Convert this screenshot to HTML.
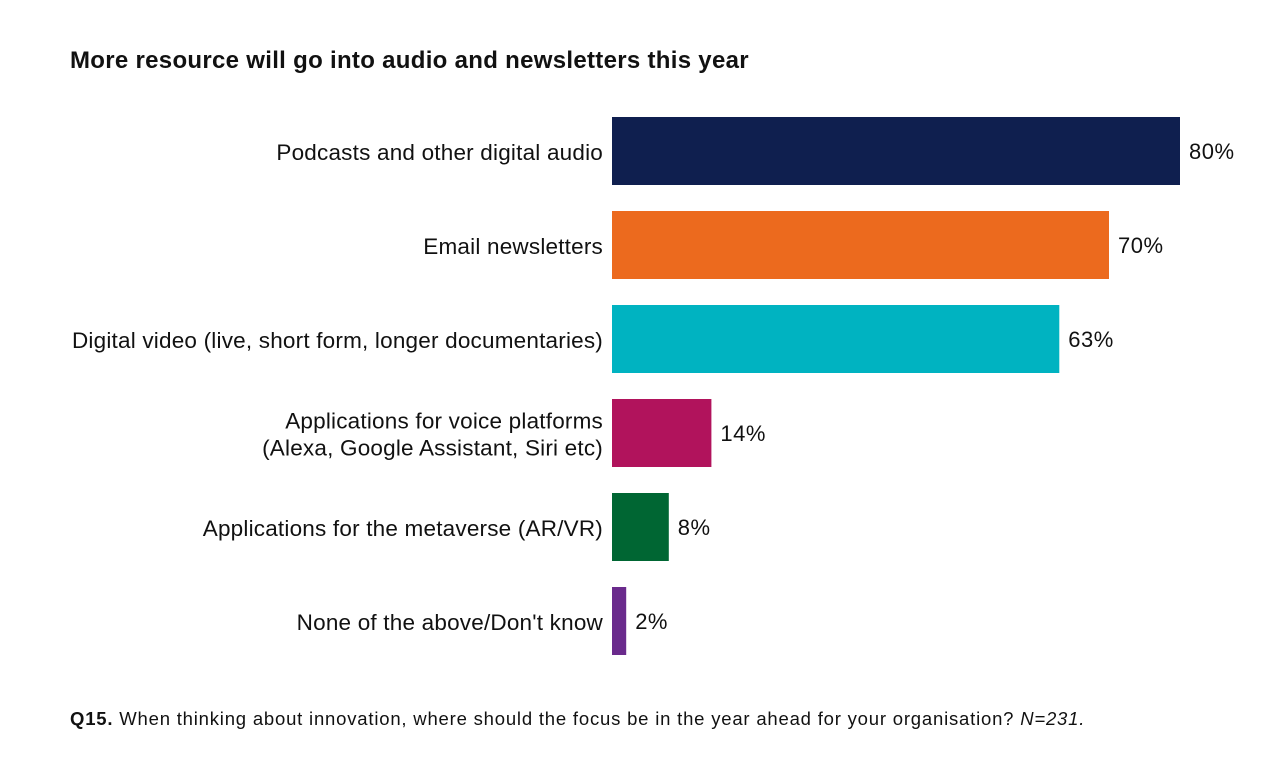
<!DOCTYPE html>
<html><head><meta charset="utf-8"><style>
body{margin:0;width:1280px;height:780px;background:#fff;font-family:"Liberation Sans",sans-serif;overflow:hidden;position:relative}
#title{position:absolute;left:70px;top:47px;font-size:24px;font-weight:bold;color:#111;letter-spacing:0.3px;white-space:nowrap}
#foot{position:absolute;left:70px;top:708px;font-size:18.5px;color:#111;letter-spacing:0.8px;white-space:nowrap}
</style></head><body>
<div id="title">More resource will go into audio and newsletters this year</div>
<svg id="chart" width="1280" height="780" style="position:absolute;left:0;top:0"></svg>
<div id="foot"><b>Q15.</b> When thinking about innovation, where should the focus be in the year ahead for your organisation? <i>N=231.</i></div>
<script>
const categories=[["Podcasts and other digital audio"],["Email newsletters"],["Digital video (live, short form, longer documentaries)"],["Applications for voice platforms","(Alexa, Google Assistant, Siri etc)"],["Applications for the metaverse (AR/VR)"],["None of the above/Don't know"]];
const values=[80,70,63,14,8,2];
const colors=["#0f1f4f","#ec6a1e","#00b3c1","#b1135c","#006633","#6a2a8c"];
const svg=document.getElementById('chart');
const NS="http://www.w3.org/2000/svg";
const x0=612,pxPer=7.1,y0=117,step=94,bh=68;
const xs=v=>v*pxPer;
const ys=i=>y0+i*step;
values.forEach((v,i)=>{
 const r=document.createElementNS(NS,'rect');
 r.setAttribute('x',x0);r.setAttribute('y',ys(i));r.setAttribute('width',xs(v));r.setAttribute('height',bh);r.setAttribute('fill',colors[i]);
 
 
 svg.appendChild(r);
 const t=document.createElementNS(NS,'text');
 t.setAttribute('x',x0+xs(v)+9);t.setAttribute('y',ys(i)+bh/2+8);t.setAttribute('font-size','22');t.setAttribute('fill','#111');
 t.setAttribute('letter-spacing','0.5');
 t.textContent=v+'%';
 
 
 svg.appendChild(t);
 const lines=categories[i];
 lines.forEach((ln,j)=>{
  const c=document.createElementNS(NS,'text');
  c.setAttribute('x',603);c.setAttribute('text-anchor','end');
  c.setAttribute('y',ys(i)+bh/2+9+(j-(lines.length-1)/2)*27);
  c.setAttribute('font-size','22.5');c.setAttribute('fill','#111');
  c.setAttribute('letter-spacing','0.2');
  c.textContent=ln;
  
  
  svg.appendChild(c);
 });
});
</script>
</body></html>
